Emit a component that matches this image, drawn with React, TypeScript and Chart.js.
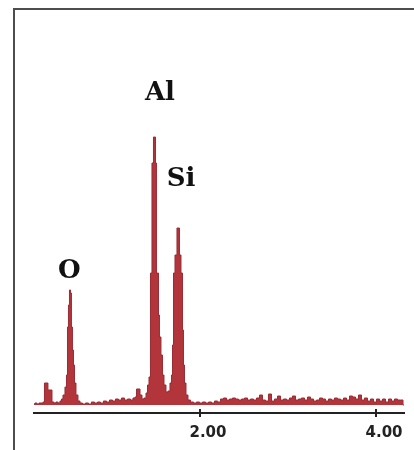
import { useEffect, useRef } from "react";
import { Chart, registerables } from "chart.js";

Chart.register(...registerables);

// Energy (keV) of each spectrum channel
const energyKeV = [
  0.114, 0.136, 0.159, 0.182, 0.205, 0.227, 0.239, 0.261, 0.284, 0.307,
  0.33, 0.352, 0.375, 0.398, 0.42, 0.432, 0.455, 0.477, 0.489, 0.5,
  0.511, 0.523, 0.534, 0.545, 0.557, 0.568, 0.58, 0.602, 0.625, 0.648,
  0.682, 0.716, 0.75, 0.784, 0.818, 0.852, 0.886, 0.92, 0.955, 0.989,
  1.023, 1.057, 1.091, 1.125, 1.159, 1.193, 1.227, 1.25, 1.273, 1.284,
  1.307, 1.33, 1.352, 1.375, 1.398, 1.409, 1.432, 1.443, 1.466, 1.477,
  1.489, 1.5, 1.511, 1.523, 1.534, 1.545, 1.568, 1.58, 1.602, 1.625,
  1.648, 1.67, 1.682, 1.693, 1.705, 1.727, 1.75, 1.761, 1.773, 1.795,
  1.807, 1.818, 1.83, 1.852, 1.875, 1.909, 1.943, 1.977, 2.011, 2.045,
  2.08, 2.114, 2.148, 2.182, 2.216, 2.25, 2.284, 2.318, 2.352, 2.386,
  2.42, 2.455, 2.489, 2.523, 2.557, 2.591, 2.625, 2.659, 2.693, 2.727,
  2.761, 2.795, 2.83, 2.864, 2.898, 2.932, 2.966, 3.0, 3.034, 3.068,
  3.102, 3.136, 3.17, 3.205, 3.239, 3.273, 3.307, 3.341, 3.375, 3.409,
  3.443, 3.477, 3.511, 3.545, 3.58, 3.614, 3.648, 3.682, 3.716, 3.75,
  3.784, 3.818, 3.852, 3.886, 3.92, 3.955, 3.989, 4.023, 4.057, 4.091,
  4.125, 4.159, 4.193, 4.227, 4.261, 4.295, 4.318,
];

// Counts (arbitrary units) for each channel
const counts = [
  1, 2, 1, 2, 2, 3, 22, 22, 15, 15,
  3, 2, 3, 2, 4, 6, 10, 18, 30, 78,
  100, 115, 112, 78, 55, 40, 22, 10, 4, 2,
  1, 2, 1, 3, 2, 3, 2, 4, 3, 5,
  4, 6, 5, 7, 5, 6, 5, 7, 8, 16,
  16, 10, 6, 7, 12, 20, 28, 132, 242, 268,
  268, 242, 132, 132, 90, 68, 50, 30, 20, 13,
  14, 22, 30, 60, 132, 150, 177, 177, 150, 132,
  75, 40, 22, 10, 5, 3, 2, 3, 2, 3,
  2, 3, 2, 4, 3, 6, 7, 5, 6, 7,
  6, 5, 6, 7, 5, 6, 5, 7, 10, 5,
  4, 11, 4, 6, 9, 5, 6, 5, 7, 9,
  5, 6, 7, 5, 8, 6, 4, 5, 7, 6,
  4, 6, 5, 7, 6, 5, 7, 5, 9, 8,
  6, 10, 5, 7, 4, 6, 3, 6, 4, 6,
  3, 6, 4, 6, 5, 5, 0,
];

const tickValues = [2, 4];

const peakLabels = ["O", "Al", "Si"];
const peakLabelEnergy = [0.515, 1.545, 1.784];
const peakLabelCount = [134, 312, 226];

export default function App() {
  const ref = useRef<HTMLCanvasElement>(null);

  useEffect(() => {
    const peakLabelPlugin = {
      id: "peakLabels",
      afterDatasetsDraw(chart: any) {
        const { ctx, scales } = chart;
        ctx.save();
        ctx.font = "bold 26px 'DejaVu Serif'";
        ctx.fillStyle = "#111111";
        ctx.textAlign = "center";
        ctx.textBaseline = "middle";
        peakLabels.forEach((t, i) => {
          ctx.fillText(
            t,
            scales.x.getPixelForValue(peakLabelEnergy[i]),
            scales.y.getPixelForValue(peakLabelCount[i])
          );
        });
        ctx.restore();
      },
    };

    const tickMarkPlugin = {
      id: "tickMarks",
      afterDraw(chart: any) {
        const { ctx, scales } = chart;
        const xs = scales.x;
        ctx.save();
        ctx.strokeStyle = "#222222";
        ctx.lineWidth = 2;
        xs.ticks.forEach((t: any) => {
          const px = Math.round(xs.getPixelForValue(t.value));
          ctx.beginPath();
          ctx.moveTo(px, xs.top - 4);
          ctx.lineTo(px, xs.top + 4);
          ctx.stroke();
        });
        ctx.restore();
      },
    };

    const chart = new Chart(ref.current!, {
      type: "line",
      data: {
        datasets: [
          {
            data: energyKeV.map((e, i) => ({ x: e, y: counts[i] })),
            stepped: "middle",
            fill: "origin",
            backgroundColor: "#b2353b",
            borderColor: "#9a2c35",
            borderWidth: 1,
            pointRadius: 0,
          },
        ],
      },
      options: {
        animation: false,
        responsive: true,
        maintainAspectRatio: false,
        layout: { padding: { left: 34, right: 10, top: 20, bottom: -3 } },
        plugins: {
          legend: { display: false },
          tooltip: { enabled: false },
        },
        scales: {
          x: {
            type: "linear",
            min: 0.114,
            max: 4.318,
            afterBuildTicks: (s: any) => {
              s.ticks = tickValues.map((v) => ({ value: v }));
            },
            grid: { display: false, drawTicks: false },
            border: { display: true, color: "#222222", width: 2 },
            ticks: {
              callback: (v: any) => Number(v).toFixed(2),
              font: { family: "'DejaVu Sans'", weight: "bold", size: 15 },
              color: "#222222",
              padding: 11,
              labelOffset: 8,
              maxRotation: 0,
              autoSkip: false,
            },
          },
          y: { display: false, min: -8, max: 385 },
        },
      } as any,
      plugins: [peakLabelPlugin, tickMarkPlugin],
    });
    return () => chart.destroy();
  }, []);

  return (
    <div style={{ position: "absolute", left: 0, top: 0, width: 414, height: 450 }}>
      <div
        style={{
          position: "absolute",
          left: 13,
          top: 8,
          right: 0,
          bottom: 0,
          borderLeft: "2px solid #4d4d4d",
          borderTop: "2px solid #4d4d4d",
          pointerEvents: "none",
        }}
      />
      <canvas ref={ref} />
    </div>
  );
}
